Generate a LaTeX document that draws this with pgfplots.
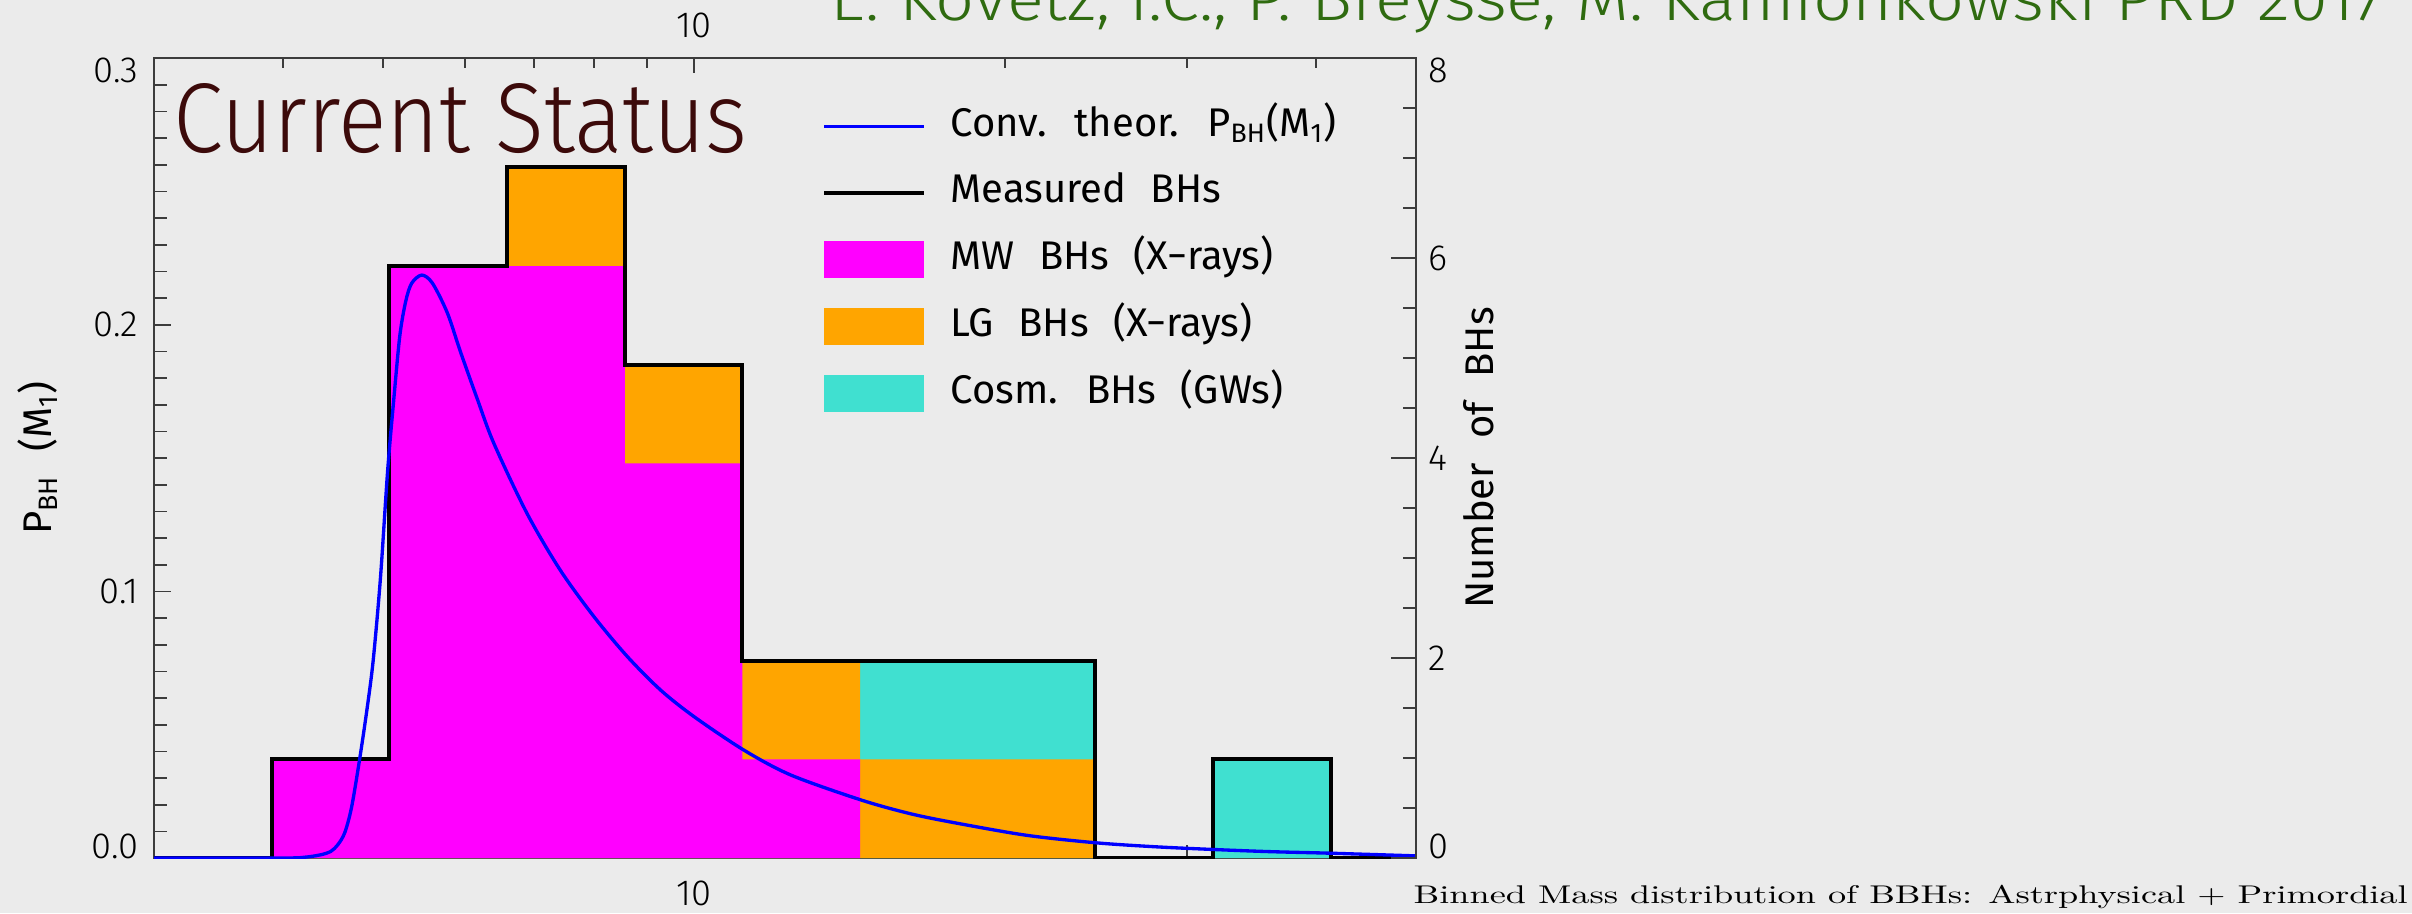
\documentclass[border=0pt]{standalone}
\usepackage{fontspec}
\usepackage{graphicx}
\usepackage{pgfplots}
\pgfplotsset{compat=1.18}
\newfontfamily\thinfont{Fira Sans Light}
\newfontfamily\idlfont{Fira Sans}[WordSpace=2.3]
\newcommand\idlsize{\idlfont\fontsize{12}{14}\selectfont}
\newcommand\ticksize{\thinfont\fontsize{10.9}{12}\selectfont}
\definecolor{bg}{RGB}{235,235,235}
\definecolor{mwcol}{RGB}{255,0,255}
\definecolor{lgcol}{RGB}{255,165,0}
\definecolor{cosmcol}{RGB}{64,224,208}
\definecolor{statuscol}{RGB}{60,10,10}
\definecolor{authcol}{RGB}{47,107,16}
\definecolor{axcol}{RGB}{60,60,60}

\pgfplotsset{
  lineleg/.style={legend image code/.code={\draw[##1] (0pt,0pt) -- (30pt,0pt);}},
  boxleg/.style={legend image code/.code={\fill[##1] (0pt,-5.55pt) rectangle (30pt,5.55pt);}},
}

\begin{document}
\begin{tikzpicture}
\useasboundingbox (0,0) rectangle (723.6pt,273.9pt);
\fill[bg] (0,0) rectangle (723.6pt,273.9pt);

% main axis: P_BH scale, histogram + curve
\begin{axis}[
  at={(46.2pt,16.5pt)}, anchor=south west, scale only axis,
  width=378.6pt, height=240pt,
  xmode=log, xmin=3, xmax=50, ymin=0, ymax=0.3,
  tick align=inside,
  axis line style={axcol, line width=0.6pt},
  tick style={axcol, line width=0.5pt},
  tick label style={font=\ticksize, inner sep=0pt},
  xtick={10}, xticklabels={10}, minor xtick={4,5,6,7,8,9,20,30,40},
  ytick={0,0.1,0.2,0.3}, minor y tick num=9,
  yticklabels={\smash{0.0},0.1,0.2,\smash{\raisebox{-\height}{0.3}}},
  xtick pos=left, ytick pos=left,
  major tick length=5pt, minor tick length=3.8pt,
  yticklabel style={xshift=-4.5pt},
  xticklabel style={yshift=-6.6pt},
  ylabel={P\textsubscript{BH} (M\textsubscript{1})},
  every axis y label/.style={at={(rel axis cs:-0.092,0.5)}, rotate=90, anchor=center, font=\idlsize},
  legend style={at={(0.5293,0.9385)}, anchor=north west, draw=none, fill=none,
    inner sep=0pt, row sep=9pt, column sep=7.35pt, font=\idlsize,
    nodes={inner sep=0pt, text height=8.5pt, text depth=2.5pt}},
  legend cell align=left,
]
% stacked histogram, painted from the top down (1 BH = 0.037)
\addplot[forget plot, draw=none, fill=cosmcol, const plot] coordinates {
  (3,0) (3.9,0.037) (5.07,0.222) (6.591,0.259) (8.568,0.185) (11.14,0.074)
  (14.48,0.074) (18.82,0.074) (24.47,0) (31.81,0.037) (41.36,0) (50,0)} \closedcycle;
\addplot[forget plot, draw=none, fill=lgcol, const plot] coordinates {
  (3.9,0.037) (5.07,0.222) (6.591,0.259) (8.568,0.185) (11.14,0.074)
  (14.48,0.037) (18.82,0.037) (24.47,0)} \closedcycle;
\addplot[forget plot, draw=none, fill=mwcol, const plot] coordinates {
  (3.9,0.037) (5.07,0.222) (6.591,0.222) (8.568,0.148) (11.14,0.037) (14.48,0)} \closedcycle;
% measured outline
\addplot[forget plot, black, line width=1.2pt, const plot] coordinates {
  (3,0) (3.9,0.037) (5.07,0.222) (6.591,0.259) (8.568,0.185) (11.14,0.074)
  (14.48,0.074) (18.82,0.074) (24.47,0) (31.81,0.037) (41.36,0) (50,0)};
% theoretical curve
\addplot[forget plot, blue, line width=1pt, smooth, tension=0.5] coordinates {
  (3.0,0) (4.0,0) (4.2,0.0003) (4.35,0.0012) (4.45,0.0025) (4.52,0.005)
  (4.59,0.0095) (4.66,0.019) (4.74,0.036) (4.82,0.055) (4.89,0.074)
  (4.97,0.105) (5.05,0.145) (5.12,0.172) (5.19,0.196) (5.26,0.209)
  (5.33,0.2156) (5.45,0.2186) (5.58,0.2156) (5.77,0.2044) (5.94,0.1899)
  (6.17,0.172) (6.40,0.1555) (6.89,0.1293) (7.42,0.108) (8.00,0.0905)
  (8.62,0.0755) (9.28,0.063) (10.0,0.053) (11.17,0.0405) (12.41,0.0311)
  (14.5,0.0218) (16.2,0.0166) (18.0,0.0130) (21.0,0.0085) (24.5,0.0057)
  (28.0,0.0042) (31.8,0.0032) (36.0,0.0024) (41.3,0.0018) (50.0,0.0008)};

\addlegendimage{blue, line width=1pt, lineleg}
\addlegendentry{Conv. theor. P\textsubscript{BH}(M\textsubscript{1})}
\addlegendimage{black, line width=1.1pt, lineleg}
\addlegendentry{Measured BHs}
\addlegendimage{draw=none, fill=mwcol, boxleg}
\addlegendentry{MW BHs (X−rays)}
\addlegendimage{draw=none, fill=lgcol, boxleg}
\addlegendentry{LG BHs (X−rays)}
\addlegendimage{draw=none, fill=cosmcol, boxleg}
\addlegendentry{Cosm. BHs (GWs)}
\end{axis}

% right axis: number of BHs
\begin{axis}[
  at={(46.2pt,16.5pt)}, anchor=south west, scale only axis,
  width=378.6pt, height=240pt,
  xmin=3, xmax=50, ymin=0, ymax=8,
  tick align=inside,
  axis line style={axcol, line width=0.6pt},
  tick style={axcol, line width=0.5pt},
  tick label style={font=\ticksize, inner sep=0pt},
  axis x line=none, axis y line*=right, ytick pos=right, yticklabel pos=right,
  ytick={0,2,4,6,8}, minor y tick num=3,
  yticklabels={\smash{0},2,4,6,\smash{\raisebox{-\height}{8}}},
  major tick length=7.5pt, minor tick length=3.8pt,
  yticklabel style={anchor=west, xshift=3.6pt},
  ylabel={Number of BHs},
  every axis y label/.style={at={(rel axis cs:1.05,0.5)}, rotate=90, anchor=center, font=\idlsize},
]
\addplot[draw=none, forget plot] coordinates {(3,0) (50,8)};
\end{axis}

% top axis
\begin{axis}[
  at={(46.2pt,16.5pt)}, anchor=south west, scale only axis,
  width=378.6pt, height=240pt,
  xmode=log, xmin=3, xmax=50, ymin=0, ymax=0.3,
  tick align=inside,
  axis line style={axcol, line width=0.6pt},
  tick style={axcol, line width=0.5pt},
  tick label style={font=\ticksize, inner sep=0pt},
  axis y line=none, axis x line*=top, xtick pos=right, xticklabel pos=right,
  xtick={10}, xticklabels={10}, minor xtick={4,5,6,7,8,9,20,30,40},
  major tick length=4.5pt, minor tick length=3pt,
  xticklabel style={anchor=south, yshift=5.7pt},
]
\addplot[draw=none, forget plot] coordinates {(3,0) (50,0.3)};
\end{axis}

\node[anchor=base west, inner sep=0pt, text=statuscol] at (51.9pt,228.3pt)
  {\resizebox{172.2pt}{20.7pt}{\thinfont Current Status}};
\node[anchor=base west, inner sep=0pt, text=authcol] at (249pt,267.8pt)
  {\resizebox{466.2pt}{14pt}{\thinfont E. Kovetz, I.C., P. Breysse, M. Kamionkowski PRD 2017}};
\node[anchor=base west, inner sep=0pt] at (423.9pt,3pt)
  {\resizebox{298.2pt}{5.5pt}{Binned Mass distribution of BBHs: Astrphysical $+$ Primordial}};
\end{tikzpicture}
\end{document}
